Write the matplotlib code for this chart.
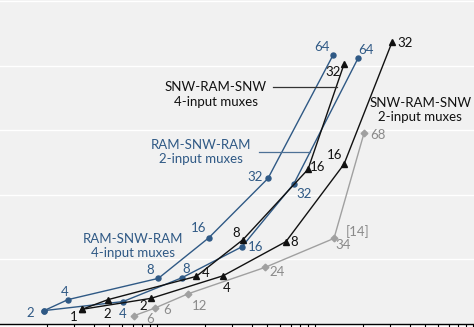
import matplotlib
matplotlib.use("Agg")
import matplotlib.pyplot as plt
from matplotlib.ticker import LogLocator, NullFormatter

plt.rcParams['font.family'] = ['Lato', 'DejaVu Sans']

# area (x, log scale) vs. delay (y) for each switch topology; labels = port count
ram4_x = [1.93, 2.73, 10.2, 21.3, 50.4, 130.0]
ram4_y = [0.20, 0.37, 0.70, 1.33, 2.25, 4.16]
ram4_lbl = ['2', '4', '8', '16', '32', '64']

ram2_x = [1.93, 6.09, 14.4, 34.5, 73.6, 187.0]
ram2_y = [0.20, 0.34, 0.71, 1.19, 2.17, 4.11]
ram2_lbl = ['', '4', '8', '16', '32', '64']

snw4_x = [3.35, 4.90, 17.7, 35.0, 90.3, 152.6]
snw4_y = [0.22, 0.37, 0.73, 1.30, 2.39, 4.02]
snw4_lbl = ['1', '2', '4', '8', '16', '32']

snw2_x = [3.35, 9.17, 26.2, 65.5, 152.6, 307.0]
snw2_y = [0.22, 0.39, 0.74, 1.27, 2.47, 4.36]
snw2_lbl = ['', '2', '4', '8', '16', '32']

ref_x = [7.15, 9.71, 15.7, 48.3, 131.9, 204.2]
ref_y = [0.12, 0.24, 0.46, 0.87, 1.32, 2.95]
ref_lbl = ['6', '6', '12', '24', '34', '68']

# label offsets in pixels
ram4_off = [(-14, -2), (-3, 8), (-8, 8), (-10, 10), (-13, 1), (-11, 8)]
ram2_off = [(0, 0), (0, -12), (4, 9), (14, 0), (10, -10), (8, 8)]
snw4_off = [(-8, -8), (-1, -14), (10, 3), (-7, 7), (10, 2), (-11, -8)]
snw2_off = [(0, 0), (-8, -8), (4, -12), (8, 0), (-9, 9), (13, -1)]
ref_off = [(16, -3), (12, -2), (12, -12), (12, -5), (9, -7), (14, -2)]

BLUE = '#2f5985'
BLACK = '#111111'
GRAY = '#a0a0a0'

fig = plt.figure(figsize=(4.74, 3.27), dpi=100)
fig.patch.set_facecolor('white')
ax = fig.add_axes([0, 3.5 / 327, 1, 1 - 3.5 / 327])
ax.set_facecolor('#f1f1f1')

series = [
    (ram4_x, ram4_y, ram4_lbl, ram4_off, BLUE, 'o', 3.6, BLUE),
    (ram2_x, ram2_y, ram2_lbl, ram2_off, BLUE, 'o', 3.6, BLUE),
    (ref_x, ref_y, ref_lbl, ref_off, GRAY, 'D', 3.4, '#8a8a8a'),
    (snw4_x, snw4_y, snw4_lbl, snw4_off, BLACK, '^', 3.8, BLACK),
    (snw2_x, snw2_y, snw2_lbl, snw2_off, BLACK, '^', 3.8, BLACK),
]
for xs, ys, lbls, offs, col, mk, ms, tcol in series:
    ax.plot(xs, ys, color=col, lw=1.0, marker=mk, ms=ms, mec=col, mfc=col)
    for x, y, t, off in zip(xs, ys, lbls, offs):
        if t:
            ax.annotate(t, (x, y), xytext=off, textcoords='offset pixels',
                        ha='center', va='center', fontsize=9.5, color=tcol)

ax.annotate('[14]', (204.2, 2.95), xytext=(-6, -98), textcoords='offset pixels',
            ha='center', va='center', fontsize=9.5, color='#8a8a8a')

ax.text(23.6, 3.55, 'SNW-RAM-SNW\n4-input muxes', ha='center', va='center',
        fontsize=9.5, color=BLACK, linespacing=1.25)
ax.plot([54.3, 137.6], [3.667, 3.667], color='#333333', lw=0.9)

ax.text(19.0, 2.66, 'RAM-SNW-RAM\n2-input muxes', ha='center', va='center',
        fontsize=9.5, color=BLUE, linespacing=1.25)
ax.plot([44.4, 93.0], [2.659, 2.659], color='#4d7196', lw=0.9)

ax.text(7.05, 1.20, 'RAM-SNW-RAM\n4-input muxes', ha='center', va='center',
        fontsize=9.5, color=BLUE, linespacing=1.25)

ax.text(463.6, 3.31, 'SNW-RAM-SNW\n2-input muxes', ha='center', va='center',
        fontsize=9.5, color=BLACK, linespacing=1.25)

ax.set_xscale('log')
ax.set_xlim(1.0147, 1014.7)
ax.set_ylim(0, 5.016)
ax.set_yticks([1, 2, 3, 4, 5])
ax.grid(True, axis='y', color='white', lw=1.0)
ax.set_axisbelow(True)
ax.tick_params(axis='y', left=False, labelleft=False)
ax.xaxis.set_major_locator(LogLocator(base=10))
ax.xaxis.set_minor_locator(LogLocator(base=10, subs=range(2, 10)))
ax.xaxis.set_major_formatter(NullFormatter())
ax.xaxis.set_minor_formatter(NullFormatter())
ax.tick_params(axis='x', which='both', direction='out', length=4, width=0.8, color='black')
for s in ['top', 'left', 'right']:
    ax.spines[s].set_visible(False)
ax.spines['bottom'].set_color('black')
ax.spines['bottom'].set_linewidth(1.0)

fig.savefig('out.png', dpi=100)
